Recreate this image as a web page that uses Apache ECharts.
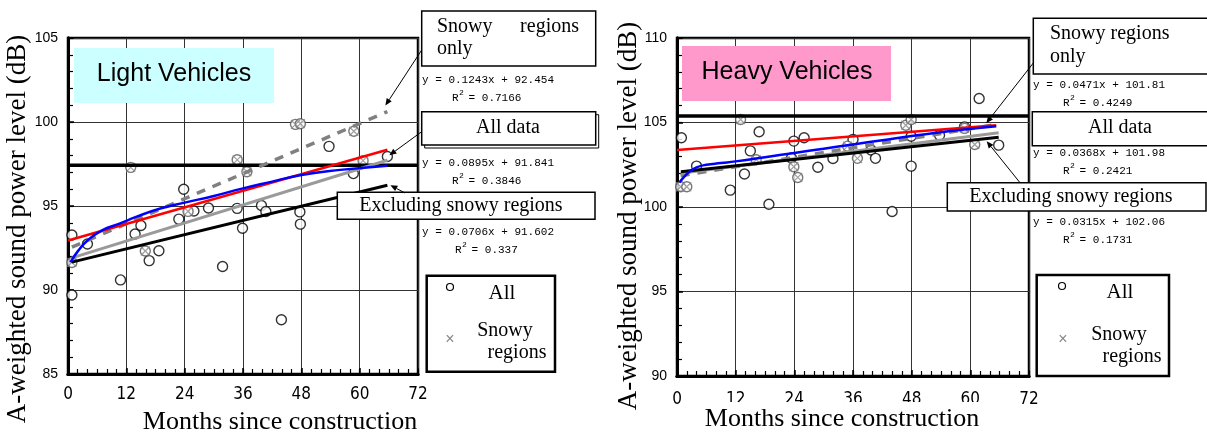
<!DOCTYPE html>
<html>
<head>
<meta charset="utf-8">
<script src="https://cdn.jsdelivr.net/npm/echarts@6/dist/echarts.min.js"></script>
<style>
  html, body { margin: 0; padding: 0; background: #fff; }
  #chart { width: 1207px; height: 435px; }
</style>
</head>
<body>
<div id="chart"></div>
<script>
// x ticks (months) shared by both panels
const monthTicks = [0, 12, 24, 36, 48, 60, 72];
const lightYTicks = [85, 90, 95, 100, 105];
const heavyYTicks = [90, 95, 100, 105, 110];

// Light vehicles: [months, dB]
const lightAll = [
  [0.8, 93.27], [0.8, 89.7], [4.0, 92.74], [10.8, 90.6], [13.8, 93.33], [15.0, 93.84],
  [16.7, 91.75], [18.7, 92.34], [22.8, 94.22], [23.8, 96.0], [25.9, 94.7], [28.9, 94.88],
  [31.8, 91.4], [34.8, 94.86], [35.9, 93.68], [39.8, 95.03], [40.7, 94.67], [43.9, 88.23],
  [47.7, 94.65], [47.8, 93.92], [53.7, 98.55], [58.7, 96.93], [65.7, 97.95]
];
const lightSnowy = [
  [0.8, 91.64], [12.9, 97.3], [15.9, 92.32], [24.7, 94.68], [34.8, 97.75], [36.8, 97.04],
  [46.8, 99.86], [47.8, 99.9], [58.8, 99.45], [60.7, 97.7]
];
const lightLevel = 97.42;
const lightRed = [[0, 92.95], [65.7, 98.35]];
const lightBlue = [
  [0.5, 91.65], [2, 92.3], [4, 92.95], [7, 93.55], [10.6, 93.95], [14, 94.35], [19, 94.85],
  [24, 95.2], [30, 95.6], [36, 96.05], [42, 96.45], [48, 96.85], [56, 97.15], [65.7, 97.4]
];
const lightFitAll = [[0.8, 91.91], [65.7, 97.72]];
const lightFitExcl = [[0.8, 91.66], [65.7, 96.24]];
const lightFitSnowy = [[0.8, 92.55], [65.7, 100.62]];

// Heavy vehicles: [months, dB]
const heavyAll = [
  [0.9, 104.1], [4.0, 102.42], [10.9, 101.0], [13.8, 101.95], [15.0, 103.32], [16.8, 104.45],
  [18.8, 100.16], [23.4, 102.9], [23.9, 103.9], [26.0, 104.1], [28.8, 102.35], [31.9, 102.87],
  [36.0, 104.0], [39.7, 103.37], [40.6, 102.88], [44.0, 99.73], [47.9, 104.19], [47.9, 102.42],
  [53.7, 104.25], [58.8, 104.74], [61.8, 106.42], [65.8, 103.66]
];
const heavySnowy = [
  [0.75, 101.2], [2.0, 101.2], [13.0, 105.18], [16.2, 102.8], [23.9, 102.38], [24.7, 101.75],
  [34.9, 103.6], [36.9, 102.88], [46.8, 104.84], [47.9, 105.18], [58.8, 104.65], [60.9, 103.7]
];
const heavyLevel = 105.39;
const heavyRed = [[0, 103.37], [65.3, 104.84]];
const heavyBlue = [
  [0.5, 101.45], [1.5, 101.8], [2.6, 102.1], [4, 102.35], [6, 102.5], [9, 102.6], [12, 102.7],
  [18, 102.95], [24, 103.2], [30, 103.45], [36, 103.7], [42, 103.95], [48, 104.2], [56, 104.5],
  [65.3, 104.78]
];
const heavyFitAll = [[0.75, 102.0], [65.8, 104.4]];
const heavyFitExcl = [[0.8, 102.09], [65.8, 104.13]];
const heavyFitSnowy = [[0.75, 101.85], [65.8, 104.9]];

const serif = '"Liberation Serif", "Times New Roman", serif';
const mono = '"Liberation Mono", "DejaVu Sans Mono", monospace';
const sans = '"Liberation Sans", Arial, sans-serif';
const narrow = '"Liberation Sans Narrow", "DejaVu Sans Condensed", sans-serif';

const chart = echarts.init(document.getElementById('chart'));

const gridRects = [
  { left: 68, top: 38, width: 350, height: 336 },
  { left: 677, top: 38, width: 352, height: 338 }
];

function xAxisFor(i) {
  return {
    gridIndex: i, type: 'value', position: 'bottom',
    min: monthTicks[0], max: monthTicks[monthTicks.length - 1], interval: 12,
    axisLine: { show: true, onZero: false, lineStyle: { color: '#000', width: 3 } },
    axisTick: { show: true, inside: true, length: 6, lineStyle: { color: '#000', width: 1.5 } },
    splitLine: { show: true, lineStyle: { color: '#333', width: 1 } },
    axisLabel: { color: '#000', fontSize: 17, fontFamily: narrow, margin: i === 0 ? 12 : 15 }
  };
}
// axes on overlay grids (2, 3) that only draw the small inner ticks (every 2 months / 1 dB)
function xMinorFor(i) {
  return {
    gridIndex: i + 2, type: 'value', position: 'bottom',
    min: monthTicks[0], max: monthTicks[monthTicks.length - 1], interval: 2,
    axisLine: { show: true, onZero: false, lineStyle: { color: '#000', width: 3 } },
    axisTick: { show: true, inside: true, length: 5, lineStyle: { color: '#000', width: 1.2 } },
    splitLine: { show: false }, axisLabel: { show: false }
  };
}
function yAxisFor(i, ticks) {
  return {
    gridIndex: i, type: 'value', position: 'left',
    min: ticks[0], max: ticks[ticks.length - 1], interval: 5,
    axisLine: { show: true, onZero: false, lineStyle: { color: '#000', width: 3 } },
    axisTick: { show: true, inside: true, length: 6, lineStyle: { color: '#000', width: 1.5 } },
    splitLine: { show: true, lineStyle: { color: '#333', width: 1 } },
    axisLabel: { color: '#000', fontSize: 14, fontFamily: sans, margin: 10 }
  };
}
function yMinorFor(i, ticks) {
  return {
    gridIndex: i + 2, type: 'value', position: 'left',
    min: ticks[0], max: ticks[ticks.length - 1], interval: 1,
    axisLine: { show: true, onZero: false, lineStyle: { color: '#000', width: 3 } },
    axisTick: { show: true, inside: true, length: 5, lineStyle: { color: '#000', width: 1.2 } },
    splitLine: { show: false }, axisLabel: { show: false }
  };
}

function line(i, data, color, width, extra) {
  return Object.assign({
    type: 'line', xAxisIndex: i, yAxisIndex: i, data: data,
    showSymbol: false, symbol: 'none', silent: true, z: 5,
    lineStyle: { color: color, width: width }
  }, extra || {});
}

function panelSeries(i, all, snowy, level, red, blue, fitAll, fitExcl, fitSnowy) {
  return [
    {
      type: 'scatter', xAxisIndex: i, yAxisIndex: i, data: all, symbol: 'circle', symbolSize: 10,
      itemStyle: { color: '#fff', borderColor: '#000', borderWidth: 1.4 }, z: 2
    },
    {
      type: 'scatter', xAxisIndex: i, yAxisIndex: i, data: snowy, symbol: 'circle', symbolSize: 10,
      itemStyle: { color: '#fff', borderColor: '#555', borderWidth: 1.4 }, z: 2
    },
    {
      type: 'scatter', xAxisIndex: i, yAxisIndex: i, data: snowy,
      symbol: 'path://M0,0L10,10M10,0L0,10', symbolSize: 9,
      itemStyle: { color: 'none', borderColor: '#888', borderWidth: 1.2 }, z: 3
    },
    line(i, [[monthTicks[0], level], [monthTicks[monthTicks.length - 1], level]], '#000', 3.5),
    line(i, fitSnowy, '#808080', 3.5, { lineStyle: { color: '#808080', width: 3.5, type: [9, 8] } }),
    line(i, fitAll, '#9a9a9a', 3),
    line(i, fitExcl, '#000', 3),
    line(i, red, '#ff0000', 2.5),
    line(i, blue, '#0000ff', 2.5, { smooth: true })
  ];
}

chart.setOption({
  animation: false,
  backgroundColor: '#fff',
  grid: [
    Object.assign({ show: true, borderColor: '#000', borderWidth: 2.5 }, gridRects[0]),
    Object.assign({ show: true, borderColor: '#000', borderWidth: 2.5 }, gridRects[1]),
    Object.assign({ show: false }, gridRects[0]),
    Object.assign({ show: false }, gridRects[1])
  ],
  xAxis: [xAxisFor(0), xAxisFor(1), xMinorFor(0), xMinorFor(1)],
  yAxis: [yAxisFor(0, lightYTicks), yAxisFor(1, heavyYTicks), yMinorFor(0, lightYTicks), yMinorFor(1, heavyYTicks)],
  series: [].concat(
    panelSeries(0, lightAll, lightSnowy, lightLevel, lightRed, lightBlue, lightFitAll, lightFitExcl, lightFitSnowy),
    panelSeries(1, heavyAll, heavySnowy, heavyLevel, heavyRed, heavyBlue, heavyFitAll, heavyFitExcl, heavyFitSnowy)
  )
});

// ---- annotations ----
function txt(x, y, s, font, opts) {
  return Object.assign({
    type: 'text', x: x, y: y, z: 55,
    style: Object.assign({ text: s, font: font, fill: '#000', align: 'left', verticalAlign: 'middle',
      textAlign: 'left', textVerticalAlign: 'middle' }, (opts && opts.style) || {})
  }, (opts && opts.el) || {});
}
function centered(x, y, s, font) {
  return txt(x, y, s, font, { style: { align: 'center', textAlign: 'center' } });
}
function box(x, y, w, h, fill, stroke, lw, z) {
  return {
    type: 'rect', z: z || 50, shape: { x: x, y: y, width: w, height: h },
    style: { fill: fill, stroke: stroke || null, lineWidth: lw || 0 }
  };
}
function equation(x, y, eq, r2, r2x) {
  const f = '11px ' + mono;
  return [
    Object.assign(txt(x, y, eq, f), { z: 45 }),
    Object.assign(txt(r2x, y + 18, 'R', f), { z: 45 }),
    Object.assign(txt(r2x + 7, y + 13, '2', '8px ' + mono), { z: 45 }),
    Object.assign(txt(r2x + 10, y + 18, ' = ' + r2, f), { z: 45 })
  ];
}
function arrow(tail, tip, head) {
  const dx = tip[0] - tail[0], dy = tip[1] - tail[1];
  const L = Math.hypot(dx, dy), ux = dx / L, uy = dy / L;
  const h = head ? 7 : 0, w = 3;
  const bx = tip[0] - ux * h, by = tip[1] - uy * h;
  const out = [{
    type: 'line', z: 60, shape: { x1: tail[0], y1: tail[1], x2: bx, y2: by },
    style: { stroke: '#000', lineWidth: 1 }
  }];
  if (head) {
    out.push({
      type: 'polygon', z: 60,
      shape: { points: [tip, [bx - uy * w, by + ux * w], [bx + uy * w, by - ux * w]] },
      style: { fill: '#000' }
    });
  }
  return out;
}
function px(i, pt, off) {
  const p = chart.convertToPixel({ gridIndex: i }, pt);
  return [p[0] + off[0], p[1] + off[1]];
}
const last = a => a[a.length - 1];

const boxFont = '20px ' + serif;
const titleFont = '26px ' + serif;

const g = [
  // panel labels
  box(74, 48, 200, 55, '#ccffff', null, 0, 40),
  centered(174, 74, 'Light Vehicles', '25px ' + sans),
  box(682, 46, 209, 55, '#ff99cc', null, 0, 40),
  centered(787, 72, 'Heavy Vehicles', '25px ' + sans),

  // axis titles
  Object.assign(centered(18, 229, 'A-weighted sound power level (dB)', '27px ' + serif), { rotation: Math.PI / 2 }),
  Object.assign(centered(629, 216, 'A-weighted sound power level (dB)', '27px ' + serif), { rotation: Math.PI / 2 }),
  centered(280, 422, 'Months since construction', titleFont),
  box(690, 402, 300, 30, '#fff', null, 0, 50),
  centered(842, 419, 'Months since construction', titleFont),

  // left annotation boxes
  box(421.7, 11, 174, 55, '#fff', '#000', 1.5),
  txt(437, 27, 'Snowy', boxFont),
  txt(579, 27, 'regions', boxFont, { style: { align: 'right', textAlign: 'right' } }),
  txt(437, 49, 'only', boxFont),
  box(424.7, 114.7, 174, 33.3, '#fff', '#000', 1, 49),
  box(421.7, 111.7, 174, 33.3, '#fff', '#000', 1.5),
  centered(508, 128, 'All data', boxFont),
  box(337.3, 192.3, 257.7, 27, '#fff', '#000', 1.5),
  centered(461, 206, 'Excluding snowy regions', boxFont),

  // right annotation boxes
  box(1033.3, 18.3, 180, 55.7, '#fff', '#000', 1.5),
  txt(1050, 34, 'Snowy regions', boxFont),
  txt(1050, 57, 'only', boxFont),
  box(1032.3, 111.7, 180, 34, '#fff', '#000', 1.5),
  centered(1120, 128, 'All data', boxFont),
  box(947.3, 182.7, 258.7, 28.3, '#fff', '#000', 1.5),
  centered(1071, 197, 'Excluding snowy regions', boxFont),

  // legend boxes
  box(426.7, 275.7, 128.3, 96, '#fff', '#000', 2.5),
  { type: 'circle', z: 55, shape: { cx: 450, cy: 287, r: 3.5 }, style: { fill: '#fff', stroke: '#000', lineWidth: 1.2 } },
  centered(502, 293, 'All', '21px ' + serif),
  txt(450, 340, '×', '16px ' + sans, { style: { align: 'center', textAlign: 'center', fill: '#888' } }),
  centered(505, 331, 'Snowy', boxFont),
  centered(517, 353, 'regions', boxFont),
  box(1036.7, 275, 132.3, 101, '#fff', '#000', 2.5),
  { type: 'circle', z: 55, shape: { cx: 1062, cy: 286, r: 3.5 }, style: { fill: '#fff', stroke: '#000', lineWidth: 1.2 } },
  centered(1120, 292, 'All', '21px ' + serif),
  txt(1063, 340, '×', '16px ' + sans, { style: { align: 'center', textAlign: 'center', fill: '#888' } }),
  centered(1119, 335, 'Snowy', boxFont),
  centered(1132, 357, 'regions', boxFont)
].concat(
  equation(422, 80, 'y = 0.1243x + 92.454', '0.7166', 452),
  equation(422, 163, 'y = 0.0895x + 91.841', '0.3846', 452),
  equation(422, 232, 'y = 0.0706x + 91.602', '0.337', 455),
  equation(1033, 85, 'y = 0.0471x + 101.81', '0.4249', 1063),
  equation(1033, 153, 'y = 0.0368x + 101.98', '0.2421', 1063),
  equation(1033, 222, 'y = 0.0315x + 102.06', '0.1731', 1063),
  arrow([421.7, 50], px(0, last(lightFitSnowy), [-2, -6]), true),
  arrow([421.7, 131.7], px(0, last(lightFitAll), [2, -5]), true),
  arrow([405, 193], px(0, last(lightFitExcl), [3, 0]), true),
  arrow([1033.3, 63], px(1, last(heavyRed), [-10, -2]), true),
  arrow([1020, 182.7], px(1, last(heavyFitExcl), [-12, 4]), true)
);

chart.setOption({ graphic: g });
</script>
</body>
</html>
